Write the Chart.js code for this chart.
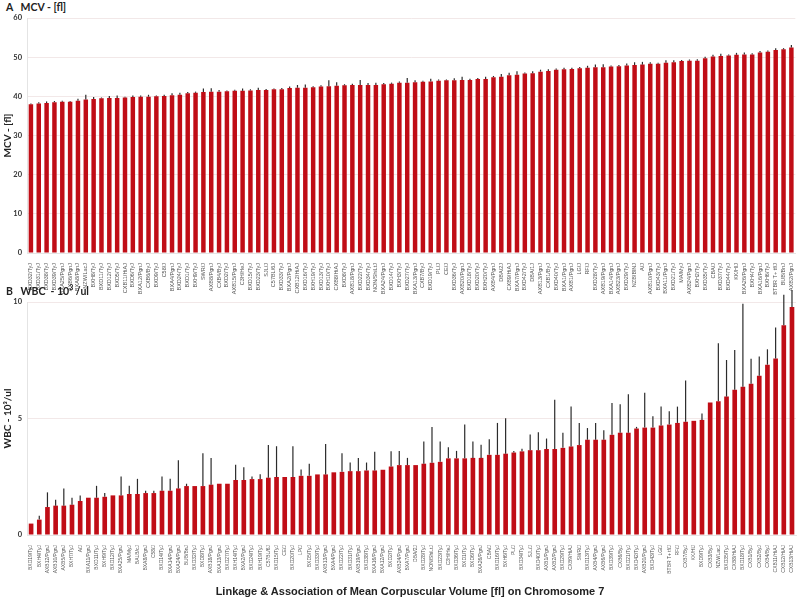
<!DOCTYPE html>
<html>
<head>
<meta charset="utf-8">
<script src="https://cdn.jsdelivr.net/npm/chart.js@4.4.1/dist/chart.umd.min.js"></script>
<style>
    body { margin: 0; background: #fff; width: 800px; height: 602px; overflow: hidden; position: relative; }
    canvas { position: absolute; left: 0; }
    #cA { top: 0; }
    #cB { top: 280px; }
    .panel { position: absolute; left: 6px; font-family: Lato, "Liberation Sans", sans-serif; font-weight: bold; font-size: 10.5px; color: #222; white-space: pre; }
    #title { position: absolute; left: 0; top: 585px; width: 820px; text-align: center; font-family: "Liberation Sans", Arial, sans-serif; font-weight: bold; font-size: 11px; color: #222; }
</style>
</head>
<body>
<div class="panel" style="top:1px">A   MCV - [fl]</div>
<canvas id="cA" width="800" height="300"></canvas>
<div class="panel" style="top:283px">B   WBC  - 10<sup style="font-size:7px">3</sup> /ul</div>
<canvas id="cB" width="800" height="305"></canvas>
<div id="title">Linkage &amp; Association of Mean Corpuscular Volume [fl] on Chromosome 7</div>
<script>
// panel A: strains sorted by MCV
const mcvLabels = [
    'BXD32/TyJ','BXD31/TyJ','BXD38/TyJ','BXD39/TyJ','BXA25/PgnJ','AXB6/PgnJ','BXA8/PgnJ','NZW/LacJ','BXH8/TyJ','BXD11/TyJ',
    'BXD12/TyJ','BXD5/TyJ','CXB11/HiAJ','BXD6/TyJ','BXA12/PgnJ','CXB6/ByJ','BXD9/TyJ','C58/J','BXA4/PgnJ','BXD24/TyJ',
    'BXD1/TyJ','BXH9/TyJ','SWR/J','AXB8/PgnJ','CXB4/ByJ','BXD2/TyJ','AXB15/PgnJ','C3H/HeJ','BXD15/TyJ','BXD23/TyJ',
    'SJL/J','C57BL/6J','BXD33/TyJ','BXA2/PgnJ','CXB12/HiAJ','BXD16/TyJ','BXH19/TyJ','BXD13/TyJ','BXH10/TyJ','CXB8/HiAJ',
    'BXD8/TyJ','AXB18/PgnJ','BXD22/TyJ','BXD34/TyJ','NON/ShiLtJ','BXA24/PgnJ','BXD14/TyJ','BXH3/TyJ','BXD27/TyJ','BXA13/PgnJ',
    'CXB7/ByJ','BXD19/TyJ','PL/J','CE/J','BXD36/TyJ','AXB20/PgnJ','BXD18/TyJ','BXD20/TyJ','BXH20/TyJ','AXB4/PgnJ',
    'DBA/2J','CXB9/HiAJ','BXA7/PgnJ','BXD42/TyJ','DBA/1J','AXB13/PgnJ','CXB1/ByJ','BXD40/TyJ','BXA1/PgnJ','AXB1/PgnJ',
    'LG/J','RF/J','BXD28/TyJ','AXB19/PgnJ','BXA14/PgnJ','AXB23/PgnJ','BXD29/TyJ','NZB/BlNJ','A/J','AXB10/PgnJ',
    'BXD43/TyJ','BXA11/PgnJ','BXD21/TyJ','MA/MyJ','AXB24/PgnJ','BXH2/TyJ','BXD35/TyJ','CBA/J','BXD37/TyJ','BXD44/TyJ',
    'KK/HlJ','BXA26/PgnJ','BXH4/TyJ','BXA16/PgnJ','BXH6/TyJ','BTBR T+ tf/J','BUB/BnJ','AXB2/PgnJ'
];
const mcvValues = [
    38.0,38.2,38.3,38.5,38.6,38.6,38.9,39.2,39.3,39.5,39.6,39.6,39.7,39.8,39.9,39.9,40.0,40.1,40.3,40.4,
    40.8,40.9,41.1,41.2,41.2,41.3,41.4,41.4,41.5,41.6,41.6,
    41.8,41.8,42.1,42.2,42.2,42.3,42.5,42.6,42.7,42.8,42.9,42.9,42.9,42.9,43.1,43.2,43.5,43.5,43.6,43.7,
    43.8,44.0,44.1,44.1,44.2,44.2,44.4,44.4,44.9,45.0,45.4,45.5,45.8,45.9,
    46.3,46.5,46.8,46.9,47.0,47.2,47.3,47.4,47.4,47.6,47.7,47.9,48.0,48.1,48.3,48.3,48.6,48.7,49.0,49.1,
    49.1,49.7,50.2,50.3,50.4,50.6,50.7,50.7,51.2,51.4,51.8,52.0,52.5
];
const mcvErrors = [
    0.2,0.3,0.4,0.3,0.3,0.2,0.5,1.2,0.5,0.2,0.5,0.6,0.2,0.4,0.3,0.5,0.2,0.3,0.5,0.5,
    0.3,0.3,0.9,0.85,0.4,0.2,0.3,0.6,0.3,0.6,0.3,
    0.2,0.3,0.4,0.7,0.8,0.3,0.3,1.5,0.9,0.3,0.3,1.3,0.5,0.6,0.3,0.3,0.3,1.2,0.5,0.3,
    0.7,0.3,0.2,0.5,0.8,0.3,0.3,0.6,0.3,0.7,0.6,0.9,0.3,0.5,
    0.5,0.4,0.3,0.4,0.3,0.3,0.5,0.7,0.8,0.3,0.3,0.5,0.7,0.7,0.4,0.3,0.6,0.5,0.3,0.3,
    0.4,0.4,0.4,0.6,0.3,0.5,0.5,0.3,0.4,0.3,0.5,0.3,0.6
];
const mcvTicks = [0, 10, 20, 30, 40, 50, 60];

// panel B: strains sorted by WBC
const wbcLabels = [
    'BXD19/TyJ','BXH4/TyJ','AXB12/PgnJ','AXB10/PgnJ','AXB5/PgnJ','BXH7/TyJ','A/J','BXA11/PgnJ','BXD11/TyJ','BXH9/TyJ',
    'BXD12/TyJ','BXA25/PgnJ','MA/MyJ','BALB/cJ','BXA8/PgnJ','C58/J','BXD14/TyJ','BXA14/PgnJ','BXA24/PgnJ','BUB/BnJ',
    'BXD32/TyJ','BXD8/TyJ','AXB18/PgnJ','BXA13/PgnJ','BXD27/TyJ','BXH14/TyJ','BXA2/PgnJ','BXD24/TyJ','BXH19/TyJ','C57BL/6J',
    'BXD15/TyJ','CE/J','BXD20/TyJ','LP/J','BXD5/TyJ','BXD33/TyJ','AXB13/PgnJ','BXA4/PgnJ','BXD22/TyJ','BXD31/TyJ',
    'AXB19/PgnJ','BXD38/TyJ','BXA16/PgnJ','BXA12/PgnJ','BXD2/TyJ','AXB24/PgnJ','BXA7/PgnJ','DBA/2J','BXD28/TyJ','NON/ShiLtJ',
    'BXD23/TyJ','C3H/HeJ','BXD36/TyJ','BXD1/TyJ','BXD6/TyJ','BXA26/PgnJ','CBA/J','BXD16/TyJ','BXH6/TyJ','PL/J',
    'BXD34/TyJ','SJL/J','BXD40/TyJ','AXB1/PgnJ','AXB2/PgnJ','BXD29/TyJ','CXB9/HiAJ','SWR/J','BXD13/TyJ','AXB4/PgnJ',
    'AXB6/PgnJ','BXD39/TyJ','CXB6/ByJ','BXD21/TyJ','BXD42/TyJ','AXB20/PgnJ','BXD43/TyJ','LG/J','BTBR T+ tf/J','RF/J',
    'CXB7/ByJ','KK/HlJ','BXD9/TyJ','CXB3/ByJ','NZW/LacJ','BXD35/TyJ','CXB8/HiAJ','BXD18/TyJ','CXB1/ByJ','CXB2/ByJ',
    'CXB4/ByJ','CXB11/HiAJ','CXB12/HiAJ','CXB13/HiAJ'
];
const wbcValues = [
    0.49,0.66,1.2,1.26,1.26,1.3,1.46,1.6,1.6,1.64,1.7,1.7,1.76,1.76,1.8,1.8,1.9,1.9,2.0,2.1,
    2.1,2.1,2.16,2.2,2.2,2.36,2.36,2.4,2.4,2.46,
    2.49,2.49,2.49,2.54,2.54,2.6,2.6,2.69,2.71,2.74,2.74,2.77,2.77,2.8,2.94,3.0,3.0,3.0,3.06,3.1,
    3.14,3.29,3.29,3.29,3.31,3.31,3.44,3.44,3.49,3.54,3.59,3.64,3.64,3.69,3.69,3.74,3.8,3.86,4.09,4.09,
    4.09,4.3,4.39,4.39,4.57,4.61,4.61,4.7,4.74,4.81,4.86,4.9,4.94,5.69,5.74,5.94,6.23,6.36,6.49,6.83,
    7.31,7.57,9.0,9.79
];
const wbcErrors = [
    0,0.17,0.63,0.25,0.74,0.3,0.24,0,0.51,0.16,0,0.81,0.35,0.65,0.1,0.1,0.61,0.51,1.21,0.1,
    0,1.41,1.15,0,0,0.65,0.55,0.11,0.21,1.4,
    1.32,0,1.32,0.27,0.52,0,1.31,0,0.8,0.37,0.57,0.34,0.8,0,0.65,0.61,0.31,0,0.95,1.53,
    0.87,0.48,0.32,1.45,0.7,0.56,0.67,1.37,1.52,0.06,0.11,0.67,0.77,0.45,2.12,0.65,1.71,0.95,0.5,0.72,
    0.41,1.37,1.22,1.65,0.07,1.5,0.49,0.81,0.57,0.7,1.77,0,0.27,0,2.49,1.57,1.71,3.57,1.07,0.83,
    0.66,1.34,1.31,0.71
];
const wbcTicks = [0, 5, 10];

const barColor = '#c00d16';
const gridColor = '#f2e8e8';

// upward error whiskers, placed with the chart's own y scale
const errorBars = {
    id: 'errorBars',
    afterDatasetsDraw(chart, args, opts) {
        const ctx = chart.ctx;
        const yScale = chart.scales.y;
        const vals = chart.data.datasets[0].data;
        const meta = chart.getDatasetMeta(0);
        ctx.save();
        ctx.strokeStyle = '#2b2b2b';
        ctx.lineWidth = 1.2;
        meta.data.forEach((bar, i) => {
            const e = opts.errors[i];
            if (!e) return;
            ctx.beginPath();
            ctx.moveTo(bar.x, bar.y);
            ctx.lineTo(bar.x, yScale.getPixelForValue(vals[i] + e));
            ctx.stroke();
        });
        ctx.restore();
    }
};

function makeChart(id, labels, values, errors, ticks, yTitle, topPad, xHeight, labelSize) {
    return new Chart(document.getElementById(id), {
        type: 'bar',
        data: {
            labels: labels,
            datasets: [{
                data: values,
                backgroundColor: barColor,
                borderWidth: 0,
                barPercentage: 0.57,
                categoryPercentage: 1
            }]
        },
        options: {
            responsive: false,
            animation: false,
            layout: { padding: { left: 0, right: 3, top: topPad, bottom: 0 } },
            plugins: {
                legend: { display: false },
                tooltip: { enabled: false },
                errorBars: { errors: errors }
            },
            scales: {
                x: {
                    grid: { display: false },
                    border: { color: '#e4e4e4' },
                    ticks: {
                        autoSkip: false, minRotation: 90, maxRotation: 90, padding: 2,
                        color: '#555', font: { family: 'Liberation Sans', size: labelSize }
                    },
                    afterFit(axis) { axis.height = xHeight; }
                },
                y: {
                    min: ticks[0],
                    max: ticks[ticks.length - 1],
                    afterBuildTicks(axis) { axis.ticks = ticks.map(v => ({ value: v })); },
                    grid: { color: gridColor, drawTicks: false },
                    border: { color: '#e4e4e4' },
                    ticks: { padding: 5, color: '#333', font: { family: 'Lato', size: 7.5, weight: 'bold' } },
                    title: {
                        display: true, text: yTitle, color: '#222', padding: { top: 2, bottom: 0 },
                        font: { family: 'Lato', size: 10, weight: 'bold' }
                    },
                    afterFit(axis) { axis.width = 27; }
                }
            }
        },
        plugins: [errorBars]
    });
}

makeChart('cA', mcvLabels, mcvValues, mcvErrors, mcvTicks, 'MCV - [fl]', 18, 47, 5.5);
makeChart('cB', wbcLabels, wbcValues, wbcErrors, wbcTicks, 'WBC - 10³/ul', 22, 50, 5);
</script>
</body>
</html>
